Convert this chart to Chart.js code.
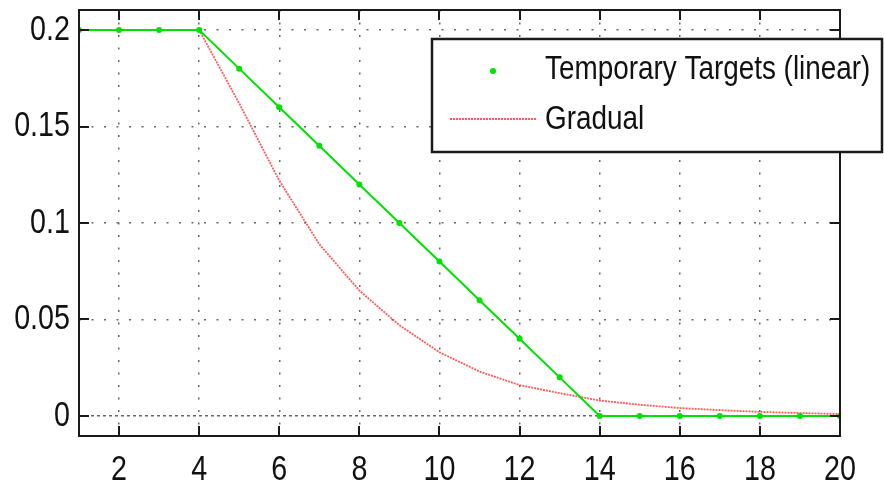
<!DOCTYPE html>
<html>
<head>
<meta charset="utf-8">
<script src="https://cdn.jsdelivr.net/npm/chart.js@4.4.1/dist/chart.umd.min.js"></script>
<style>
  html, body { margin: 0; padding: 0; background: #fff; }
</style>
</head>
<body>
<canvas id="myLineChart" width="884" height="489"></canvas>
<script>
const steps = [1, 2, 3, 4, 5, 6, 7, 8, 9, 10, 11, 12, 13, 14, 15, 16, 17, 18, 19, 20];
const linearTargets = [0.2, 0.2, 0.2, 0.2, 0.18, 0.16, 0.14, 0.12, 0.1, 0.08, 0.06, 0.04, 0.02, 0, 0, 0, 0, 0, 0, 0];
const gradualTargets = [0.2, 0.2, 0.2, 0.2, 0.162, 0.122, 0.089, 0.065, 0.047, 0.033, 0.023, 0.016, 0.0118, 0.008, 0.0058, 0.0041, 0.003, 0.0021, 0.0015, 0.001];
const seriesLabels = ["Temporary Targets (linear)", "Gradual"];
const xTickValues = [2, 4, 6, 8, 10, 12, 14, 16, 18, 20];
const yTickValues = [0, 0.05, 0.1, 0.15, 0.2];
const yTickLabels = ["0", "0.05", "0.1", "0.15", "0.2"];

const FONT = "'Liberation Sans', Arial, sans-serif";
const SX = 0.82; // squeeze text horizontally, the original uses a narrow helvetica
const GREEN = "rgb(0, 225, 0)";
const RED = "rgba(255, 50, 50, 0.8)";

Chart.defaults.font.family = FONT;
Chart.defaults.font.size = 35;
Chart.defaults.color = "#111";

// dotted grid, a denser dash on the zero line
const gridDash = (ctx) => (ctx.tick && ctx.tick.value === 0 ? [3, 3] : [2, 10.5]);

// draw the tick labels a bit narrower
const narrowLabels = {
  id: "narrowLabels",
  beforeDraw(chart) {
    Object.values(chart.scales).forEach((scale) => {
      if (scale._narrowed) return;
      scale._narrowed = true;
      scale.drawLabels = function () {
        const ctx = this.ctx;
        this.getLabelItems().forEach((item) => {
          const o = item.options;
          ctx.save();
          ctx.translate(o.translation[0], o.translation[1]);
          ctx.scale(SX, 1);
          ctx.font = item.font.string;
          ctx.fillStyle = o.color;
          ctx.textAlign = o.textAlign;
          ctx.textBaseline = o.textBaseline;
          ctx.fillText(item.label, 0, item.textOffset);
          ctx.restore();
        });
      };
    });
  },
};

// frame, inward ticks and the legend box (matlab style)
const framePlugin = {
  id: "frameAndLegend",
  afterDraw(chart) {
    const ctx = chart.ctx;
    const { left, right, top, bottom } = chart.chartArea;
    const xs = chart.scales.x;
    const ys = chart.scales.y;

    ctx.save();
    ctx.strokeStyle = "#1a1a1a";
    ctx.lineWidth = 2;
    ctx.beginPath();
    xTickValues.forEach((v) => {
      const px = Math.round(xs.getPixelForValue(v));
      ctx.moveTo(px, bottom);
      ctx.lineTo(px, bottom - 10);
      ctx.moveTo(px, top);
      ctx.lineTo(px, top + 10);
    });
    yTickValues.forEach((v) => {
      const py = Math.round(ys.getPixelForValue(v));
      ctx.moveTo(left, py);
      ctx.lineTo(left + 10, py);
      ctx.moveTo(right, py);
      ctx.lineTo(right - 10, py);
    });
    ctx.stroke();
    ctx.strokeRect(left, top, right - left, bottom - top);

    // legend
    const bx = 432, by = 39, bw = 450, bh = 113;
    ctx.fillStyle = "#fff";
    ctx.fillRect(bx, by, bw, bh);
    ctx.lineWidth = 2.5;
    ctx.strokeStyle = "#1a1a1a";
    ctx.strokeRect(bx, by, bw, bh);

    ctx.fillStyle = GREEN;
    ctx.beginPath();
    ctx.arc(493, 71, 3, 0, Math.PI * 2);
    ctx.fill();

    ctx.strokeStyle = RED;
    ctx.lineWidth = 1.8;
    ctx.setLineDash([2, 1]);
    ctx.beginPath();
    ctx.moveTo(450, 119);
    ctx.lineTo(537, 119);
    ctx.stroke();
    ctx.setLineDash([]);

    ctx.fillStyle = "#111";
    ctx.font = "34px " + FONT;
    ctx.textBaseline = "middle";
    ctx.textAlign = "left";
    [[seriesLabels[0], 70], [seriesLabels[1], 120]].forEach(([txt, y]) => {
      ctx.save();
      ctx.translate(545, y);
      ctx.scale(SX, 1);
      ctx.fillText(txt, 0, 0);
      ctx.restore();
    });
    ctx.restore();
  },
};

const chart = new Chart(document.getElementById("myLineChart"), {
  type: "line",
  data: {
    datasets: [
      {
        label: seriesLabels[0],
        data: steps.map((s, i) => ({ x: s, y: linearTargets[i] })),
        borderColor: GREEN,
        backgroundColor: GREEN,
        borderWidth: 2,
        pointRadius: 3,
        pointBorderWidth: 0,
        tension: 0,
      },
      {
        label: seriesLabels[1],
        data: steps.map((s, i) => ({ x: s, y: gradualTargets[i] })),
        borderColor: RED,
        borderWidth: 1.8,
        borderDash: [2, 1],
        pointRadius: 0,
        tension: 0,
      },
    ],
  },
  options: {
    responsive: false,
    animation: false,
    layout: { padding: { top: 10, right: 44, left: 0, bottom: 0 } },
    plugins: {
      legend: { display: false },
      tooltip: { enabled: false },
    },
    scales: {
      x: {
        type: "linear",
        min: 1,
        max: 20,
        afterBuildTicks: (s) => { s.ticks = xTickValues.map((v) => ({ value: v })); },
        afterFit: (s) => { s.height = 53; s.paddingLeft = 0; s.paddingRight = 0; },
        ticks: { padding: 13, maxRotation: 0, autoSkip: false, callback: (v) => String(v) },
        grid: { color: "rgba(0,0,0,0.6)", lineWidth: 1.5, drawTicks: false },
        border: { display: false, dash: gridDash },
      },
      y: {
        min: -0.0104,
        max: 0.2104,
        afterBuildTicks: (s) => { s.ticks = yTickValues.map((v) => ({ value: v })); },
        afterFit: (s) => { s.width = 79; s.paddingTop = 0; s.paddingBottom = 0; },
        ticks: {
          padding: 9,
          autoSkip: false,
          callback: (v) => yTickLabels[yTickValues.indexOf(v)] ?? "",
        },
        grid: { color: "rgba(0,0,0,0.6)", lineWidth: 1.5, drawTicks: false },
        border: { display: false, dash: gridDash },
      },
    },
  },
  plugins: [narrowLabels, framePlugin],
});
</script>
</body>
</html>
